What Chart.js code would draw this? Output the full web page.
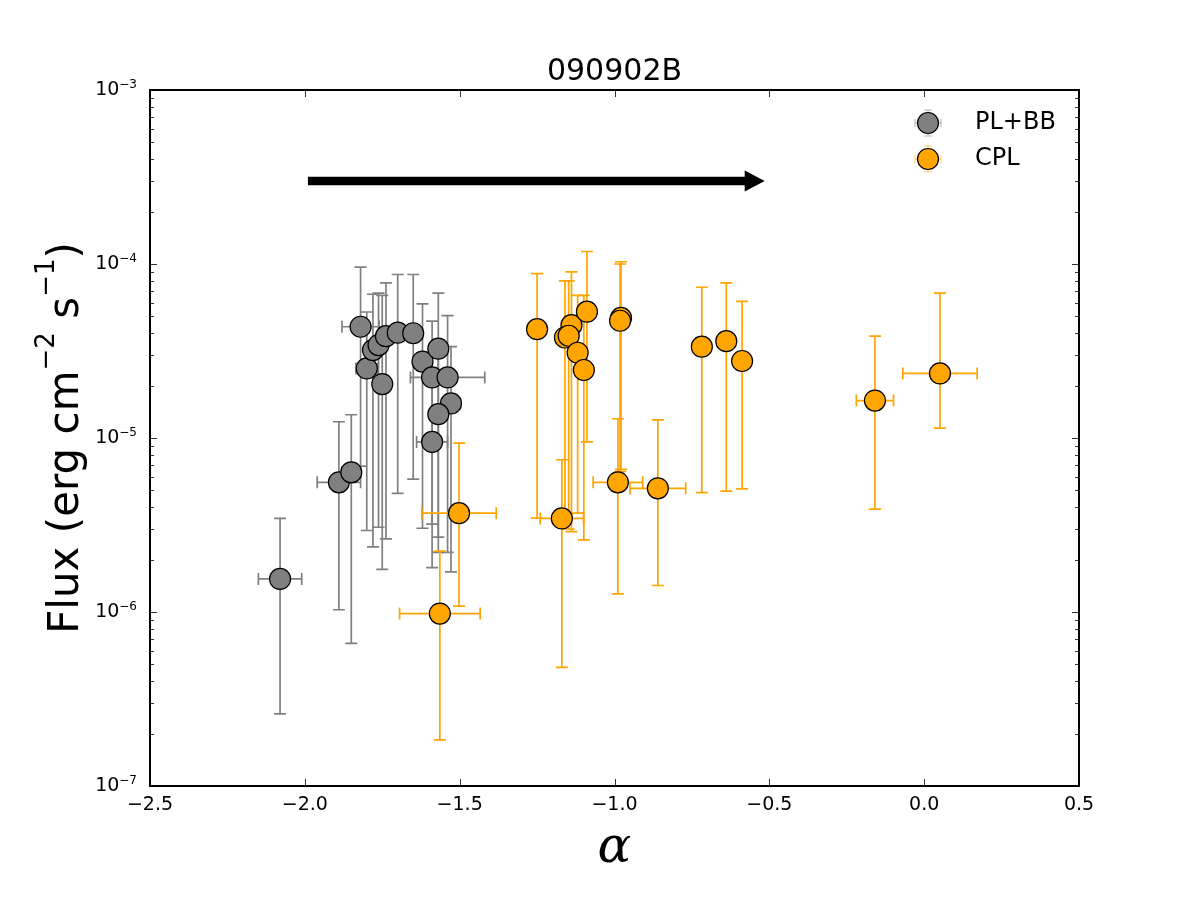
<!DOCTYPE html>
<html>
<head>
<meta charset="utf-8">
<script src="https://cdn.jsdelivr.net/npm/chart.js@4.4.1/dist/chart.umd.min.js"></script>
<style>
  html, body { margin: 0; padding: 0; background: #fff; }
  #wrap { width: 1200px; height: 900px; }
</style>
</head>
<body>
<div id="wrap"><canvas id="flux"></canvas></div>
<script>
const burstName = '090902B'

// PL+BB fits
const plAlpha = [ -2.08, -1.89, -1.85, -1.82, -1.80, -1.78, -1.762, -1.738, -1.75, -1.70,
                  -1.65, -1.62, -1.569, -1.589, -1.539, -1.528, -1.569, -1.589 ]
const plAlphaErr = [ 0.07, 0.07, 0.03, 0.06, 0.035, 0.02, 0.02, 0.02, 0.02, 0.02,
                     0.02, 0.02, 0.02, 0.02, 0.12, 0.03, 0.02, 0.05 ]
const plFlux = [ 1.55e-6, 5.56e-6, 6.35e-6, 4.36e-5, 2.51e-5, 3.2e-5, 3.42e-5, 3.85e-5, 2.04e-5, 4.03e-5,
                 4.0e-5, 2.75e-5, 3.26e-5, 2.23e-5, 2.23e-5, 1.58e-5, 1.37e-5, 9.5e-6 ]
const plFluxLo = [ 2.6e-7, 1.03e-6, 6.6e-7, 6.9e-6, 2.94e-6, 2.37e-6, 3.07e-6, 2.63e-6, 1.76e-6, 4.8e-6,
                   5.8e-6, 3.03e-6, 2.69e-6, 1.8e-6, 2.2e-6, 1.7e-6, 2.2e-6, 3.2e-6 ]
const plFluxHi = [ 3.45e-6, 1.24e-5, 1.36e-5, 9.6e-5, 5.3e-5, 6.7e-5, 6.8e-5, 7.8e-5, 6.6e-5, 8.7e-5,
                   8.7e-5, 5.9e-5, 6.8e-5, 4.7e-5, 5.05e-5, 3.35e-5, 3.0e-5, 2.0e-5 ]

// CPL fits
const cplAlpha = [ -1.564, -1.502, -1.25, -1.139, -1.160, -1.148, -1.119, -1.099, -1.089, -0.979,
                   -0.982, -0.718, -0.639, -0.588, -0.989, -0.860, -1.170, -0.159, 0.051 ]
const cplAlphaErr = [ 0.13, 0.12, 0.02, 0.02, 0.02, 0.02, 0.02, 0.02, 0.02, 0.02,
                      0.02, 0.02, 0.02, 0.02, 0.08, 0.09, 0.07, 0.06, 0.12 ]
const cplFlux = [ 9.8e-7, 3.7e-6, 4.22e-5, 4.45e-5, 3.78e-5, 3.87e-5, 3.09e-5, 2.46e-5, 5.32e-5, 4.9e-5,
                  4.72e-5, 3.35e-5, 3.6e-5, 2.77e-5, 5.56e-6, 5.14e-6, 3.45e-6, 1.64e-5, 2.35e-5 ]
const cplFluxLo = [ 1.84e-7, 1.08e-6, 3.46e-6, 2.9e-6, 3.3e-6, 3.0e-6, 3.7e-6, 2.6e-6, 9.5e-6, 6.6e-6,
                    6.4e-6, 4.85e-6, 4.95e-6, 5.1e-6, 1.27e-6, 1.42e-6, 4.8e-7, 3.9e-6, 1.14e-5 ]
const cplFluxHi = [ 2.24e-6, 9.35e-6, 8.8e-5, 9.0e-5, 8.0e-5, 8.0e-5, 6.6e-5, 6.6e-5, 1.18e-4, 1.03e-4,
                    1.0e-4, 7.35e-5, 7.8e-5, 6.1e-5, 1.29e-5, 1.27e-5, 7.5e-6, 3.85e-5, 6.8e-5 ]

const xTicks = [ -2.5, -2.0, -1.5, -1.0, -0.5, 0.0, 0.5 ]
const yExponents = [ -7, -6, -5, -4, -3 ]
const arrowAlpha = [ -1.99, -0.515 ]
const arrowFlux = 3.0e-4

const errSets = [
  { color: '#808080', alpha: plAlpha, xerr: plAlphaErr, flux: plFlux, lo: plFluxLo, hi: plFluxHi },
  { color: '#FFA500', alpha: cplAlpha, xerr: cplAlphaErr, flux: cplFlux, lo: cplFluxLo, hi: cplFluxHi }
]

const FONT = '"DejaVu Sans", "Bitstream Vera Sans", sans-serif'

const errorBars = {
  id: 'errorBars',
  beforeDatasetDraw(chart, args) {
    const { ctx, scales: { x, y } } = chart
    const set = errSets[args.index]
    const cap = 6
    ctx.save()
    ctx.strokeStyle = set.color
    ctx.lineWidth = 1.7
    set.alpha.forEach((a, i) => {
      const px = x.getPixelForValue(a)
      const py = y.getPixelForValue(set.flux[i])
      const top = y.getPixelForValue(set.hi[i])
      const bot = y.getPixelForValue(set.lo[i])
      const l = x.getPixelForValue(a - set.xerr[i])
      const r = x.getPixelForValue(a + set.xerr[i])
      ctx.beginPath()
      ctx.moveTo(px, top); ctx.lineTo(px, bot)
      ctx.moveTo(l, py); ctx.lineTo(r, py)
      ctx.moveTo(px - cap, top); ctx.lineTo(px + cap, top)
      ctx.moveTo(px - cap, bot); ctx.lineTo(px + cap, bot)
      ctx.moveTo(l, py - cap); ctx.lineTo(l, py + cap)
      ctx.moveTo(r, py - cap); ctx.lineTo(r, py + cap)
      ctx.stroke()
    })
    ctx.restore()
  }
}

const arrow = {
  id: 'arrow',
  beforeDatasetsDraw(chart) {
    const { ctx, scales: { x, y } } = chart
    const x0 = x.getPixelForValue(arrowAlpha[0])
    const x1 = x.getPixelForValue(arrowAlpha[1])
    const py = y.getPixelForValue(arrowFlux)
    const headLen = 20, headHalf = 10.5, half = 4.3
    ctx.save()
    ctx.fillStyle = '#000'
    ctx.beginPath()
    ctx.moveTo(x0, py - half)
    ctx.lineTo(x1 - headLen, py - half)
    ctx.lineTo(x1 - headLen, py - headHalf)
    ctx.lineTo(x1, py)
    ctx.lineTo(x1 - headLen, py + headHalf)
    ctx.lineTo(x1 - headLen, py + half)
    ctx.lineTo(x0, py + half)
    ctx.closePath()
    ctx.fill()
    ctx.restore()
  }
}

const frame = {
  id: 'frame',
  afterDraw(chart) {
    const { ctx, chartArea: { left, right, top, bottom }, scales: { x, y } } = chart
    ctx.save()

    // inward ticks
    ctx.strokeStyle = '#333'
    ctx.lineWidth = 1
    ctx.beginPath()
    xTicks.forEach(v => {
      const px = Math.round(x.getPixelForValue(v)) + 0.5
      ctx.moveTo(px, bottom); ctx.lineTo(px, bottom - 7)
      ctx.moveTo(px, top); ctx.lineTo(px, top + 7)
    })
    yExponents.forEach(e => {
      const py = Math.round(y.getPixelForValue(Math.pow(10, e))) + 0.5
      ctx.moveTo(left, py); ctx.lineTo(left + 7, py)
      ctx.moveTo(right, py); ctx.lineTo(right - 7, py)
      if (e < -3) {
        for (let m = 2; m < 10; m++) {
          const my = Math.round(y.getPixelForValue(m * Math.pow(10, e))) + 0.5
          ctx.moveTo(left, my); ctx.lineTo(left + 4, my)
          ctx.moveTo(right, my); ctx.lineTo(right - 4, my)
        }
      }
    })
    ctx.stroke()

    // spines
    ctx.strokeStyle = '#000'
    ctx.lineWidth = 2
    ctx.strokeRect(left, top, right - left, bottom - top)

    ctx.fillStyle = '#000'

    // x tick labels
    ctx.font = '19px ' + FONT
    ctx.textAlign = 'center'
    ctx.textBaseline = 'top'
    xTicks.forEach(v => {
      const label = v.toFixed(1).replace('-', '\u2212')
      ctx.fillText(label, x.getPixelForValue(v), bottom + 10)
    })

    // y tick labels 10^n
    yExponents.forEach(e => {
      const py = y.getPixelForValue(Math.pow(10, e))
      const sup = '\u2212' + (-e)
      ctx.font = '12px ' + FONT
      const sw = ctx.measureText(sup).width
      ctx.textAlign = 'right'
      ctx.textBaseline = 'alphabetic'
      ctx.fillText(sup, left - 13, py - 2)
      ctx.font = '19px ' + FONT
      ctx.textBaseline = 'middle'
      ctx.fillText('10', left - 13 - sw, py)
    })

    // title
    ctx.font = '30px ' + FONT
    ctx.textAlign = 'center'
    ctx.textBaseline = 'alphabetic'
    ctx.fillText(burstName, (left + right) / 2, 80)

    // x axis title
    ctx.font = 'italic 50px "DejaVu Serif", serif'
    ctx.fillText('\u03b1', (left + right) / 2, 862)

    // y axis title with superscripts
    const parts = [
      { t: 'Flux (erg cm', size: 42, rise: 0 },
      { t: '\u22122', size: 26, rise: 24 },
      { t: ' s', size: 42, rise: 0 },
      { t: '\u22121', size: 26, rise: 24 },
      { t: ')', size: 42, rise: 0 }
    ]
    let total = 0
    parts.forEach(p => {
      ctx.font = p.size + 'px ' + FONT
      p.w = ctx.measureText(p.t).width
      total += p.w
    })
    ctx.save()
    ctx.translate(78, (top + bottom) / 2)
    ctx.rotate(-Math.PI / 2)
    ctx.textAlign = 'left'
    let cx = -total / 2
    parts.forEach(p => {
      ctx.font = p.size + 'px ' + FONT
      ctx.fillText(p.t, cx, -p.rise)
      cx += p.w
    })
    ctx.restore()

    // legend
    const entries = [
      { label: 'PL+BB', color: '#808080', y: 123 },
      { label: 'CPL', color: '#FFA500', y: 159 }
    ]
    entries.forEach(en => {
      const mx = 928
      ctx.strokeStyle = en.color
      ctx.globalAlpha = 0.6
      ctx.lineWidth = 1
      ctx.beginPath()
      ctx.moveTo(mx, en.y - 13); ctx.lineTo(mx, en.y + 13)
      ctx.moveTo(mx - 4, en.y - 13); ctx.lineTo(mx + 4, en.y - 13)
      ctx.moveTo(mx - 4, en.y + 13); ctx.lineTo(mx + 4, en.y + 13)
      ctx.moveTo(mx - 13, en.y); ctx.lineTo(mx + 13, en.y)
      ctx.moveTo(mx - 13, en.y - 4); ctx.lineTo(mx - 13, en.y + 4)
      ctx.moveTo(mx + 13, en.y - 4); ctx.lineTo(mx + 13, en.y + 4)
      ctx.stroke()
      ctx.globalAlpha = 1
      ctx.beginPath()
      ctx.arc(mx, en.y, 10.5, 0, Math.PI * 2)
      ctx.fillStyle = en.color
      ctx.fill()
      ctx.strokeStyle = '#000'
      ctx.lineWidth = 1.2
      ctx.stroke()
      ctx.fillStyle = '#000'
      ctx.font = '24px ' + FONT
      ctx.textAlign = 'left'
      ctx.textBaseline = 'middle'
      ctx.fillText(en.label, 975, en.y)
    })

    ctx.restore()
  }
}

new Chart(document.querySelector('#flux'), {
  type: 'scatter',
  plugins: [errorBars, arrow, frame],
  data: {
    datasets: [
      {
        label: 'PL+BB',
        order: 2,
        data: plAlpha.map((a, i) => ({ x: a, y: plFlux[i] })),
        pointRadius: 10.5,
        pointHoverRadius: 10.5,
        backgroundColor: '#808080',
        borderColor: '#000',
        borderWidth: 1.2
      },
      {
        label: 'CPL',
        order: 1,
        data: cplAlpha.map((a, i) => ({ x: a, y: cplFlux[i] })),
        pointRadius: 10.5,
        pointHoverRadius: 10.5,
        backgroundColor: '#FFA500',
        borderColor: '#000',
        borderWidth: 1.2
      }
    ]
  },
  options: {
    responsive: true,
    maintainAspectRatio: false,
    animation: false,
    events: [],
    layout: {
      padding: { left: 150, top: 90, right: 121, bottom: 114 }
    },
    scales: {
      x: {
        type: 'linear',
        display: false,
        min: -2.5,
        max: 0.5
      },
      y: {
        type: 'logarithmic',
        display: false,
        min: 1e-7,
        max: 1e-3
      }
    },
    plugins: {
      legend: { display: false },
      title: { display: false },
      tooltip: { enabled: false }
    }
  }
})
</script>
</body>
</html>
